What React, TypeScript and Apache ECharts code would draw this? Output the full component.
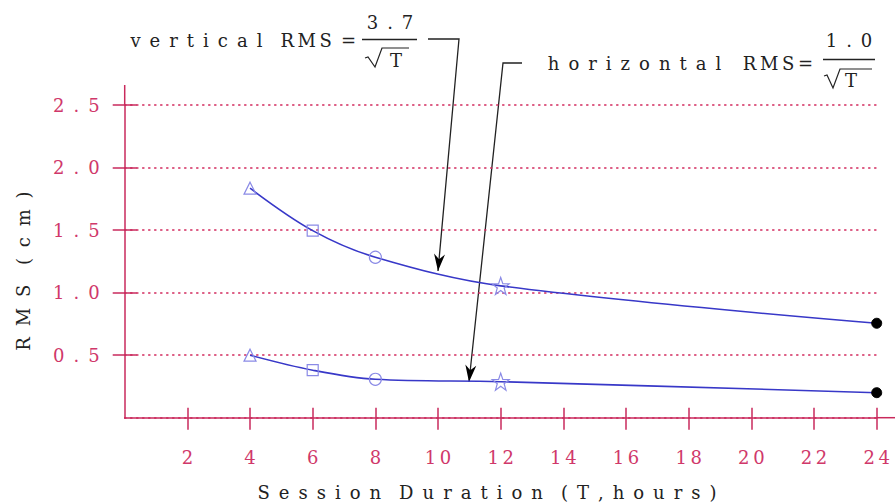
import React, { useEffect, useRef } from "react";
import * as echarts from "echarts";

const T = [4, 6, 8, 12, 24];
const verticalRms = [1.835, 1.496, 1.283, 1.054, 0.755];
const horizontalRms = [0.5, 0.38, 0.307, 0.288, 0.2];
const xTicks = [2, 24, 2]; // min, max, interval of labelled ticks
const yTicks = [0.5, 2.5, 0.5];

const CRIMSON = "#c92a5c";
const LABEL = "#d0386a";
const LINE = "#3838c8";
const MARK = "#8a8ae6";
const STAR =
  "path://M0,-10 L2.35,-3.24 9.51,-3.09 3.8,1.24 5.88,8.09 0,4 -5.88,8.09 -3.8,1.24 -9.51,-3.09 -2.35,-3.24Z";
const SYMBOLS = ["triangle", "rect", "circle", STAR, "circle"];
const SIZES = [12, 11, 12, 17, 10];

const EN = "\u2002";
const TH = "\u2009";
const HAIR = "\u200A";
const spaced = (s: string, sep: string) => s.split("").join(sep);

const GL = 124.7;
const GR = 18.3;
const GT = 105;
const GB = 86.3;

function arrowHead(from: number[], tip: number[], len = 17, half = 5.5) {
  const dx = tip[0] - from[0];
  const dy = tip[1] - from[1];
  const d = Math.hypot(dx, dy);
  const ux = dx / d, uy = dy / d;
  const bx = tip[0] - ux * len, by = tip[1] - uy * len;
  const nx = -uy, ny = ux;
  const mx = tip[0] - ux * len * 0.7, my = tip[1] - uy * len * 0.7;
  return [
    [tip[0], tip[1]],
    [bx + nx * half, by + ny * half],
    [mx, my],
    [bx - nx * half, by - ny * half],
  ];
}

function makeSeries(name: string, vals: number[]) {
  return {
    name,
    type: "line",
    xAxisIndex: 0,
    yAxisIndex: 0,
    smooth: 0.35,
    lineStyle: { color: LINE, width: 1.6 },
    data: T.map((t, i) => ({
      value: [t, vals[i]],
      symbol: SYMBOLS[i],
      symbolSize: SIZES[i],
      itemStyle:
        i === T.length - 1
          ? { color: "#000", borderColor: "#000", borderWidth: 1 }
          : { color: "rgba(0,0,0,0)", borderColor: MARK, borderWidth: 1.2 },
    })),
  };
}

export default function App() {
  const ref = useRef<HTMLDivElement>(null);
  useEffect(() => {
    if (!ref.current) return;
    const chart = echarts.init(ref.current, undefined, { renderer: "svg" });
    const serif = "DejaVu Serif";
    const v1 = [[428, 39], [459, 39], [438, 271]];
    const h1 = [[522, 63], [503, 63], [469, 382]];
    const hiddenLine = { show: true, onZero: false, lineStyle: { color: "rgba(0,0,0,0)", width: 0 } };
    const word = (s: string) => spaced(s, EN);
    chart.setOption({
      animation: false,
      backgroundColor: "#fff",
      grid: [
        { left: GL, right: GR, top: GT, bottom: GB },
        { left: GL + 62.67, right: GR, top: GT, bottom: GB + 62.5 },
      ],
      xAxis: [
        {
          type: "value",
          gridIndex: 0,
          position: "bottom",
          min: 0,
          max: 24,
          interval: 2,
          axisLine: { show: true, onZero: false, lineStyle: { color: CRIMSON, width: 1.5 } },
          axisTick: { show: false },
          splitLine: { show: false },
          axisLabel: {
            margin: 31,
            color: LABEL,
            fontFamily: serif,
            fontSize: 18,
            formatter: (v: number) => (v === 0 ? "" : spaced(String(v), TH)),
          },
        },
        {
          // crossing tick marks at 2..24 (line hidden)
          type: "value",
          gridIndex: 1,
          position: "bottom",
          min: xTicks[0],
          max: xTicks[1],
          interval: xTicks[2],
          offset: 62.5 - 10,
          axisLine: hiddenLine,
          axisLabel: { show: false },
          splitLine: { show: false },
          axisTick: { show: true, inside: false, length: 22, lineStyle: { color: CRIMSON, width: 1.5 } },
        },
      ],
      yAxis: [
        {
          type: "value",
          gridIndex: 0,
          position: "left",
          min: 0,
          max: 2.5,
          interval: 0.5,
          axisLine: { show: true, onZero: false, lineStyle: { color: CRIMSON, width: 1.5 } },
          axisTick: { show: false },
          splitLine: { show: true, lineStyle: { color: "#d22a5e", width: 1.6, type: [1.2, 4.8], cap: "round" } },
          axisLabel: {
            margin: 25,
            color: LABEL,
            fontFamily: serif,
            fontSize: 18,
            formatter: (v: number) => (v === 0 ? "" : spaced(v.toFixed(1), EN)),
          },
        },
        {
          // crossing tick marks at 0.5..2.5 (line hidden)
          type: "value",
          gridIndex: 1,
          position: "left",
          min: yTicks[0],
          max: yTicks[1],
          interval: yTicks[2],
          offset: 62.67 - 12,
          axisLine: hiddenLine,
          axisLabel: { show: false },
          splitLine: { show: false },
          axisTick: { show: true, inside: false, length: 24, lineStyle: { color: CRIMSON, width: 1.5 } },
        },
      ],
      series: [makeSeries("vertical", verticalRms), makeSeries("horizontal", horizontalRms)],
      graphic: [
        // axis line extensions
        { type: "line", shape: { x1: GL, y1: 85, x2: GL, y2: GT }, style: { stroke: CRIMSON, lineWidth: 1.5 } },
        { type: "line", shape: { x1: 876.7, y1: 417.7, x2: 895, y2: 417.7 }, style: { stroke: CRIMSON, lineWidth: 1.5 } },
        // vertical RMS label
        {
          type: "text",
          x: 356,
          y: 40,
          style: {
            text: word("vertical") + EN + EN + spaced("RMS", TH) + EN + "=",
            fill: "#222",
            font: `18px ${serif}`,
            textAlign: "right",
            textVerticalAlign: "middle",
          },
        },
        { type: "text", x: 390, y: 22, style: { text: spaced("3.7", EN), fill: "#222", font: `18px ${serif}`, textAlign: "center", textVerticalAlign: "middle" } },
        { type: "line", shape: { x1: 362, y1: 39.5, x2: 417, y2: 39.5 }, style: { stroke: "#222", lineWidth: 1.3 } },
        { type: "polyline", shape: { points: [[365, 58], [368, 57], [375, 67], [382, 48], [409, 48]] }, style: { stroke: "#222", lineWidth: 1.2, fill: null } },
        { type: "text", x: 396, y: 60, style: { text: "T", fill: "#222", font: `18px ${serif}`, textAlign: "center", textVerticalAlign: "middle" } },
        // horizontal RMS label
        {
          type: "text",
          x: 813,
          y: 63,
          style: {
            text: word("horizontal") + EN + EN + TH + spaced("RMS", TH) + TH + "=",
            fill: "#222",
            font: `18px ${serif}`,
            textAlign: "right",
            textVerticalAlign: "middle",
          },
        },
        { type: "text", x: 849, y: 40, style: { text: spaced("1.0", EN), fill: "#222", font: `18px ${serif}`, textAlign: "center", textVerticalAlign: "middle" } },
        { type: "line", shape: { x1: 823, y1: 59.5, x2: 875, y2: 59.5 }, style: { stroke: "#222", lineWidth: 1.3 } },
        { type: "polyline", shape: { points: [[824, 76], [827, 75], [833, 88], [840, 69], [872, 69]] }, style: { stroke: "#222", lineWidth: 1.2, fill: null } },
        { type: "text", x: 851, y: 80, style: { text: "T", fill: "#222", font: `18px ${serif}`, textAlign: "center", textVerticalAlign: "middle" } },
        // arrows
        { type: "polyline", shape: { points: v1 }, style: { stroke: "#222", lineWidth: 1.3, fill: null } },
        { type: "polygon", shape: { points: arrowHead(v1[1], v1[2]) }, style: { fill: "#000" } },
        { type: "polyline", shape: { points: h1 }, style: { stroke: "#222", lineWidth: 1.3, fill: null } },
        { type: "polygon", shape: { points: arrowHead(h1[1], h1[2]) }, style: { fill: "#000" } },
        // axis titles
        {
          type: "text",
          x: 487,
          y: 492,
          style: {
            text: word("Session") + EN + EN + word("Duration") + EN + EN + word("(T,hours)"),
            fill: "#222",
            font: `18px ${serif}`,
            textAlign: "center",
            textVerticalAlign: "middle",
          },
        },
        {
          type: "text",
          x: 23,
          y: 271,
          rotation: Math.PI / 2,
          style: {
            text: spaced("RMS", EN + HAIR) + EN + EN + HAIR + spaced("(cm)", EN + HAIR),
            fill: "#222",
            font: `18px ${serif}`,
            textAlign: "center",
            textVerticalAlign: "middle",
          },
        },
      ],
    });
    return () => chart.dispose();
  }, []);
  return <div ref={ref} style={{ position: "fixed", left: 0, top: 0, width: 895, height: 504 }} />;
}
